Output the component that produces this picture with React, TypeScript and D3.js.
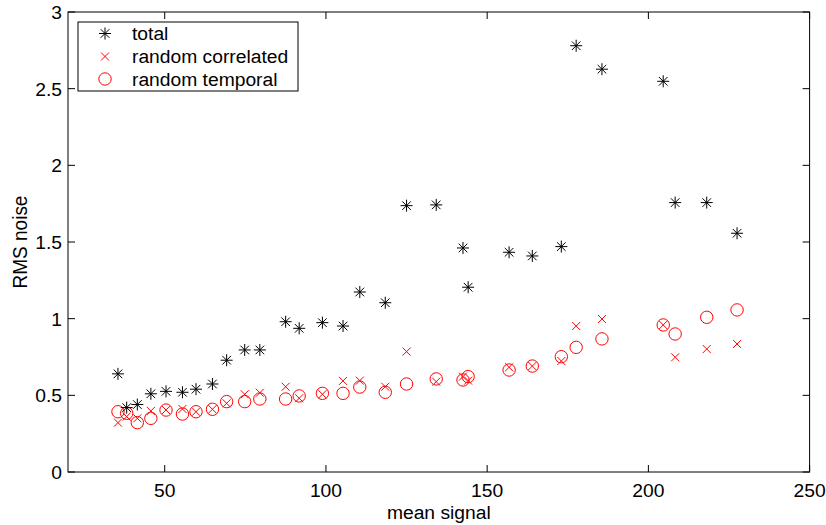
import React from "react";
import { scaleLinear } from "d3";

// mean signal for each measurement
const meanSignal = [
  35.5, 38.2, 41.5, 45.7, 50.4, 55.5, 59.7, 64.8, 69.2, 74.8,
  79.5, 87.5, 91.7, 98.9, 105.3, 110.5, 118.4, 125.0, 134.2, 142.5,
  144.1, 156.8, 164.0, 173.0, 177.6, 185.6, 204.6, 208.3, 218.1, 227.5
];
const totalNoise = [
  0.64, 0.42, 0.44, 0.51, 0.526, 0.52, 0.54, 0.574, 0.729, 0.796,
  0.796, 0.98, 0.937, 0.974, 0.952, 1.174, 1.104, 1.737, 1.742, 1.461,
  1.205, 1.433, 1.409, 1.47, 2.78, 2.627, 2.548, 1.757, 1.757, 1.557
];
const correlatedNoise = [
  0.322, 0.361, 0.35, 0.398, 0.404, 0.411, 0.393, 0.409, 0.448, 0.507,
  0.517, 0.556, 0.481, 0.507, 0.594, 0.596, 0.556, 0.785, 0.589, 0.622,
  0.596, 0.683, 0.691, 0.724, 0.952, 0.998, 0.959, 0.748, 0.802, 0.835
];
const temporalNoise = [
  0.393, 0.383, 0.322, 0.35, 0.404, 0.378, 0.393, 0.409, 0.459, 0.459,
  0.476, 0.476, 0.496, 0.513, 0.513, 0.554, 0.52, 0.574, 0.607, 0.6,
  0.622, 0.665, 0.691, 0.752, 0.813, 0.868, 0.959, 0.9, 1.009, 1.057
];
const xTicks = [50, 100, 150, 200, 250];
const yTicks = [0, 0.5, 1, 1.5, 2, 2.5, 3];
const legendLabels = ["total", "random correlated", "random temporal"];

const W = 826, H = 525;
const left = 68, right = 809.6, top = 12, bottom = 472;
const FONT = "'Liberation Sans', Arial, Helvetica, sans-serif";
const FS = 18;
const SX = 1.07; // text looks a little wide in the reference
const TICK = 7;

const starPath = "M-6,0H6M0,-6V6M-4.3,-4.3L4.3,4.3M-4.3,4.3L4.3,-4.3";
const crossPath = "M-4,-4L4,4M-4,4L4,-4";

const Star = ({ x, y }: { x: number; y: number }) => (
  <path d={starPath} transform={`translate(${x},${y})`} stroke="#000" strokeWidth={1} fill="none" />
);
const Cross = ({ x, y }: { x: number; y: number }) => (
  <path d={crossPath} transform={`translate(${x},${y})`} stroke="#ff0000" strokeWidth={1} fill="none" />
);
const Ring = ({ x, y }: { x: number; y: number }) => (
  <circle cx={x} cy={y} r={6.2} stroke="#ff0000" strokeWidth={1} fill="none" />
);

const Label = ({ x, y, anchor, children }: any) => (
  <text
    transform={`translate(${x},${y}) scale(${SX},1)`}
    textAnchor={anchor}
    fontSize={FS}
    fontFamily={FONT}
    fill="#000"
  >
    {children}
  </text>
);

export default function App() {
  const x = scaleLinear().domain([20, 250]).range([left, right]);
  const y = scaleLinear().domain([0, 3]).range([bottom, top]);

  const legendX = 78, legendY = 22;
  const rowY = [33.5, 56.5, 79];

  return (
    <svg width={W} height={H} style={{ position: "absolute", left: 0, top: 0, background: "#fff" }}>
      <rect x={0} y={0} width={W} height={H} fill="#fff" />

      {/* ticks, inward on all four sides */}
      {xTicks.map((t) => (
        <g key={"xt" + t}>
          <line x1={x(t)} x2={x(t)} y1={bottom} y2={bottom - TICK} stroke="#000" />
          <line x1={x(t)} x2={x(t)} y1={top} y2={top + TICK} stroke="#000" />
          <Label x={x(t)} y={497} anchor="middle">{t}</Label>
        </g>
      ))}
      {yTicks.map((t) => (
        <g key={"yt" + t}>
          <line x1={left} x2={left + TICK} y1={y(t)} y2={y(t)} stroke="#000" />
          <line x1={right} x2={right - TICK} y1={y(t)} y2={y(t)} stroke="#000" />
          <Label x={62} y={y(t) + 7} anchor="end">{t}</Label>
        </g>
      ))}

      <rect x={left} y={top} width={right - left} height={bottom - top} fill="none" stroke="#000" strokeWidth={1} />

      {/* series */}
      {meanSignal.map((m, i) => <Cross key={"c" + i} x={x(m)} y={y(correlatedNoise[i])} />)}
      {meanSignal.map((m, i) => <Ring key={"r" + i} x={x(m)} y={y(temporalNoise[i])} />)}
      {meanSignal.map((m, i) => <Star key={"s" + i} x={x(m)} y={y(totalNoise[i])} />)}

      {/* axis labels */}
      <Label x={(left + right) / 2} y={519} anchor="middle">mean signal</Label>
      <text
        transform={`translate(27,${(top + bottom) / 2}) scale(1.05,1) rotate(-90)`}
        textAnchor="middle"
        fontSize={19}
        fontFamily={FONT}
        fill="#000"
      >
        RMS noise
      </text>

      {/* legend */}
      <rect x={legendX} y={legendY} width={220} height={69} fill="#fff" stroke="#000" strokeWidth={1} />
      <Star x={105} y={rowY[0]} />
      <Cross x={105} y={rowY[1]} />
      <Ring x={105} y={rowY[2]} />
      {legendLabels.map((l, i) => (
        <Label key={l} x={132} y={rowY[i] + 6.5} anchor="start">{l}</Label>
      ))}
    </svg>
  );
}
